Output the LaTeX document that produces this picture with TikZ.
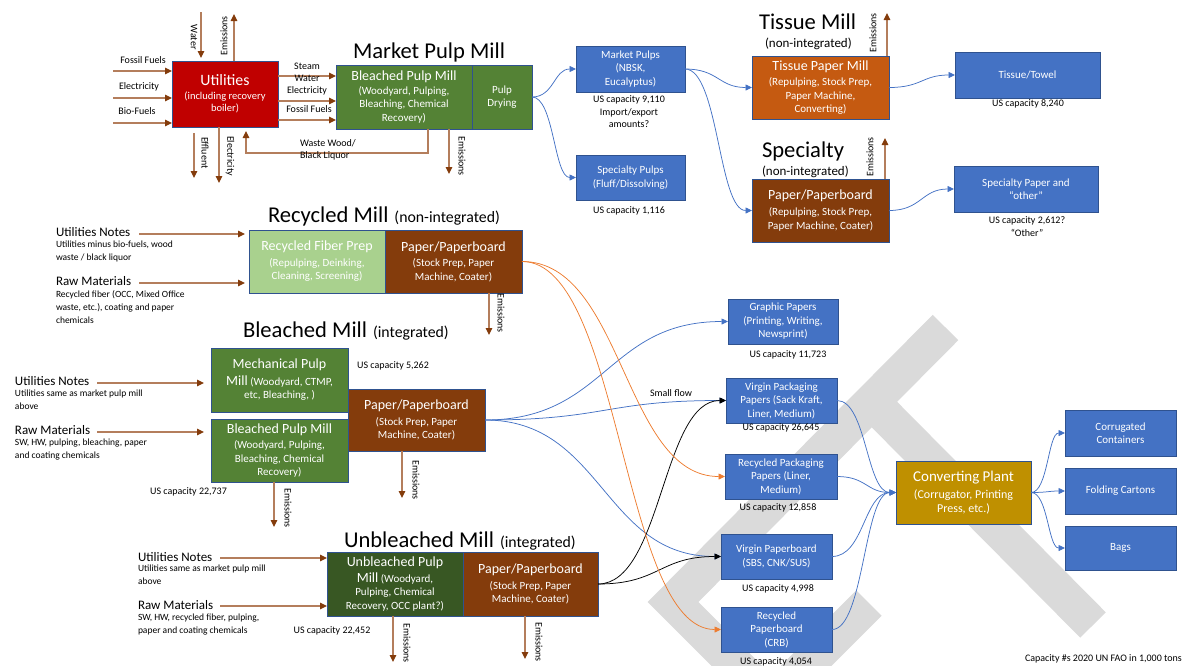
\documentclass[tikz,border=0pt]{standalone}
\usepackage{fontspec}
\setmainfont{Carlito}
\usetikzlibrary{arrows.meta,calc}

% fills
\definecolor{cRed}{HTML}{C00000}
\definecolor{cGreen}{HTML}{548235}
\definecolor{cDkGreen}{HTML}{385723}
\definecolor{cLtGreen}{HTML}{A9D18E}
\definecolor{cBrown}{HTML}{843C0C}
\definecolor{cOrange}{HTML}{C55A11}
\definecolor{cBlue}{HTML}{4472C4}
\definecolor{cGold}{HTML}{BF9000}
\definecolor{cEdge}{HTML}{2F528F}
% lines
\definecolor{cFlowBlue}{HTML}{4472C4}
\definecolor{cFlowOrange}{HTML}{ED7D31}
\definecolor{cArrLine}{HTML}{B47E5C}
\definecolor{cArrHead}{HTML}{843C0C}
\definecolor{cMark}{HTML}{DADADA}

% type sizes (1pt = 1 unit of the picture)
\newcommand\ftitle{\fontsize{22.6}{27}\selectfont}
\newcommand\fhead{\fontsize{15.8}{19}\selectfont}
\newcommand\fnotehead{\fontsize{13}{15}\selectfont}
\newcommand\fmain{\fontsize{14}{17}\selectfont}
\newcommand\fsub{\fontsize{11}{13.5}\selectfont}
\newcommand\flab{\fontsize{10}{12.5}\selectfont}
\newcommand\fnote{\fontsize{9.5}{13}\selectfont}

\tikzset{
  box/.style={draw=cEdge, line width=0.8pt, inner sep=0pt, outer sep=0pt,
    align=center, text=white, font=\fsub},
  prod/.style={box, fill=cBlue},
  lab/.style={inner sep=0pt, outer sep=0pt, font=\flab},
  ttl/.style={inner sep=0pt, outer sep=0pt, anchor=base west},
  note/.style={inner sep=0pt, outer sep=0pt, font=\fnote, align=left, anchor=north west},
  notehead/.style={inner sep=0pt, outer sep=0pt, font=\fnotehead, anchor=west},
  feed/.style={draw=cArrLine, line width=1.1pt,
    -{Triangle[length=7pt,width=6.5pt,color=cArrHead]}},
  office/.style={to path={let \p1=(\tikztostart), \p2=(\tikztotarget) in
    .. controls ({(\x1+\x2)/2},\y1) and ({(\x1+\x2)/2},\y2) .. (\tikztotarget) \tikztonodes}},
  flow/.style={draw=cFlowBlue, line width=0.75pt, -{Triangle[length=6.5pt,width=6pt]}, office},
  oflow/.style={flow, draw=cFlowOrange},
  kflow/.style={flow, draw=black},
  wmark/.style={draw=cMark, line width=36pt, line join=miter, line cap=butt},
}

\begin{document}
\begin{tikzpicture}[x=1pt,y=-1pt]
\useasboundingbox (0,0) rectangle (1184,665);

% background mark
\begin{scope}
  \clip (0,0) rectangle (1184,665);
  \draw[wmark] (945.5,327.5) -- (673,602) -- (763,692);
  \draw[wmark] (866,396) -- (1093,625);
  \draw[wmark] (869,603) -- (779,693);
\end{scope}

% ---------------- utilities ----------------
\node[box, fill=cRed, minimum width=106pt, minimum height=66pt,
  font=\fontsize{10.5}{12}\selectfont] (util) at (225,94)
  {{\fhead Utilities}\\[2pt](including recovery\\boiler)};

\coordinate (uFFs) at (113,71);
\coordinate (uELs) at (113,98);
\coordinate (uBFs) at (113,123);
\node[lab] (uFF) at (143,60) {Fossil Fuels};
\node[lab] (uEL) at (139,87) {Electricity};
\node[lab] (uBF) at (137,111) {Bio-Fuels};
\draw[feed] (uFFs) -- (util.west |- uFFs);
\draw[feed] (uELs) -- (util.west |- uELs);
\draw[feed] (uBFs) -- (util.west |- uBFs);

\coordinate (uWs) at (201,12);
\draw[feed] (uWs) -- ([yshift=3pt]util.north -| uWs);
\node[lab, rotate=-90] (uW) at (194,37) {Water};
\coordinate (uEm) at (234,14);
\draw[feed] (util.north -| uEm) -- (uEm);
\node[lab, rotate=90] (uEmL) at (224,36) {Emissions};
\coordinate (uEf) at (194,178);
\draw[feed] ([yshift=-6pt]util.south -| uEf) -- (uEf);
\node[lab, rotate=-90] (uEfL) at (205,153) {Effluent};
\coordinate (uEo) at (219,183);
\draw[feed] (util.south -| uEo) -- (uEo);
\node[lab, rotate=-90] (uEoL) at (230,156) {Electricity};

% ---------------- market pulp mill ----------------
\node[ttl, font=\ftitle] (tMarket) at (353,58) {Market Pulp Mill};
\node[box, fill=cGreen, minimum width=136pt, minimum height=64pt] (mpm) at (404,97)
  {{\fmain Bleached Pulp Mill}\\(Woodyard, Pulping,\\Bleaching, Chemical\\Recovery)};
\node[box, fill=cGreen, minimum width=60pt, minimum height=64pt] (mpd) at (502,97)
  {Pulp\\Drying};

\draw[feed] (util.east |- 0,76) -- (mpm.west |- 0,76);
\draw[feed] (util.east |- 0,101) -- (mpm.west |- 0,101);
\draw[feed] (util.east |- 0,120) -- (mpm.west |- 0,120);
\node[lab, anchor=north, align=center, font=\fontsize{10}{12}\selectfont] (uSteam) at (307,63)
  {Steam\\Water\\Electricity};
\node[lab] (uFF2) at (309,109) {Fossil Fuels};

\coordinate (wwA) at (428,153);
\coordinate (wwB) at (246,153);
\draw[feed] (mpm.south -| wwA) -- (wwA) -- (wwB) -- ([yshift=-4pt]util.south -| wwB);
\node[lab, anchor=north west, align=left, font=\fontsize{10}{12}\selectfont] (wwL) at (300,140)
  {Waste Wood/\\Black Liquor};

\coordinate (mEm) at (449,174);
\draw[feed] (mpm.south -| mEm) -- (mEm);
\node[lab, rotate=-90] (mEmL) at (462,156) {Emissions};

% market and specialty pulps
\node[prod, minimum width=109pt, minimum height=46pt] (mkt) at (630.5,69)
  {Market Pulps\\(NBSK,\\Eucalyptus)};
\node[lab, anchor=north, align=center] (mktCap) at (629,96)
  {US capacity 9,110\\Import/export\\amounts?};
\node[prod, minimum width=109pt, minimum height=45pt] (spp) at (630.5,177.5)
  {Specialty Pulps\\(Fluff/Dissolving)};
\node[lab] (sppCap) at (629,211) {US capacity 1,116};

% ---------------- tissue mill ----------------
\node[ttl, font=\ftitle] (tTissue) at (759,29) {Tissue Mill};
\node[ttl, font=\fnotehead] (tTissueSub) at (765,47) {(non-integrated)};
\node[box, fill=cOrange, minimum width=137pt, minimum height=63pt] (tis) at (820.5,87.5)
  {{\fmain Tissue Paper Mill}\\[2pt](Repulping, Stock Prep,\\Paper Machine,\\Converting)};
\coordinate (tEm) at (887,13);
\draw[feed] (tis.north -| tEm) -- (tEm);
\node[lab, rotate=90] (tEmL) at (873,33) {Emissions};
\node[prod, minimum width=145pt, minimum height=46pt] (towel) at (1027.5,75) {Tissue/Towel};
\node[lab] (towelCap) at (1028,104) {US capacity 8,240};

% ---------------- specialty ----------------
\node[ttl, font=\ftitle] (tSpec) at (762,157) {Specialty};
\node[ttl, font=\fnotehead] (tSpecSub) at (762,175) {(non-integrated)};
\node[box, fill=cBrown, minimum width=137pt, minimum height=63pt] (spec) at (820.5,210.5)
  {{\fmain Paper/Paperboard}\\[3pt](Repulping, Stock Prep,\\Paper Machine, Coater)};
\coordinate (sEm) at (885,138);
\draw[feed] (spec.north -| sEm) -- (sEm);
\node[lab, rotate=90] (sEmL) at (870,157) {Emissions};
\node[prod, minimum width=144pt, minimum height=46pt] (specpaper) at (1026,189)
  {Specialty Paper and\\“other”};
\node[lab, anchor=north, align=center] (specCap) at (1027,217) {US capacity 2,612?\\“Other”};

% ---------------- recycled mill ----------------
\node[ttl] (tRec) at (268,222) {{\ftitle Recycled Mill}\hspace{6pt}{\fhead (non-integrated)}};
\node[box, fill=cLtGreen, minimum width=136pt, minimum height=63pt] (rfp) at (317,261.5)
  {{\fmain Recycled Fiber Prep}\\[2pt](Repulping, Deinking,\\Cleaning, Screening)};
\node[box, fill=cBrown, minimum width=137pt, minimum height=63pt] (rpp) at (453.5,261.5)
  {{\fmain Paper/Paperboard}\\[2pt](Stock Prep, Paper\\Machine, Coater)};
\node[notehead] (rUtil) at (56,232) {Utilities Notes};
\node[note] (rUtilTxt) at (56,241) {Utilities minus bio-fuels, wood\\waste / black liquor};
\node[notehead] (rRaw) at (56,281) {Raw Materials};
\node[note] (rRawTxt) at (56,291) {Recycled fiber (OCC, Mixed Office\\waste, etc.), coating and paper\\chemicals};
\coordinate (rUs) at (139,234);
\coordinate (rRs) at (139,283);
\draw[feed] (rUs) -- ([xshift=-4pt]rfp.west |- rUs);
\draw[feed] (rRs) -- ([xshift=-4pt]rfp.west |- rRs);
\coordinate (rEm) at (489,335);
\draw[feed] (rpp.south -| rEm) -- (rEm);
\node[lab, rotate=-90] (rEmL) at (501,313) {Emissions};

% ---------------- bleached mill ----------------
\node[ttl] (tBl) at (243,337) {{\ftitle Bleached Mill}\hspace{6pt}{\fhead (integrated)}};
\node[box, fill=cGreen, minimum width=137pt, minimum height=64pt] (mech) at (279.5,380)
  {{\fmain Mechanical Pulp}\\[3pt]{\fmain Mill} (Woodyard, CTMP,\\etc, Bleaching, )};
\node[box, fill=cGreen, minimum width=137pt, minimum height=63pt] (bpm) at (279.5,450.5)
  {{\fmain Bleached Pulp Mill}\\[2pt](Woodyard, Pulping,\\Bleaching, Chemical\\Recovery)};
\node[box, fill=cBrown, minimum width=137pt, minimum height=62pt] (bpp) at (416.5,420)
  {{\fmain Paper/Paperboard}\\[2pt](Stock Prep, Paper\\Machine, Coater)};
\node[lab] (mechCap) at (393,366) {US capacity 5,262};
\node[lab] (bpmCap) at (188.5,492) {US capacity 22,737};
\node[notehead] (bUtil) at (15,381) {Utilities Notes};
\node[note] (bUtilTxt) at (15,390) {Utilities same as market pulp mill\\above};
\node[notehead] (bRaw) at (15,430) {Raw Materials};
\node[note] (bRawTxt) at (15,439) {SW, HW, pulping, bleaching, paper\\and coating chemicals};
\coordinate (bUs) at (97,383);
\coordinate (bRs) at (97,432);
\draw[feed] (bUs) -- ([xshift=-7pt]mech.west |- bUs);
\draw[feed] (bRs) -- ([xshift=-7pt]bpm.west |- bRs);
\coordinate (bEm1) at (274,527);
\draw[feed] (bpm.south -| bEm1) -- (bEm1);
\node[lab, rotate=-90] (bEm1L) at (288,508) {Emissions};
\coordinate (bEm2) at (402,498);
\draw[feed] (bpp.south -| bEm2) -- (bEm2);
\node[lab, rotate=-90] (bEm2L) at (416,480) {Emissions};

% ---------------- unbleached mill ----------------
\node[ttl] (tUb) at (344,547) {{\ftitle Unbleached Mill}\hspace{6pt}{\fhead (integrated)}};
\node[box, fill=cDkGreen, minimum width=136pt, minimum height=64pt] (ubp) at (395,584)
  {{\fmain Unbleached Pulp}\\[2pt]{\fmain Mill} (Woodyard,\\Pulping, Chemical\\Recovery, OCC plant?)};
\node[box, fill=cBrown, minimum width=135pt, minimum height=64pt] (upp) at (530.5,584)
  {{\fmain Paper/Paperboard}\\[2pt](Stock Prep, Paper\\Machine, Coater)};
\node[lab] (ubpCap) at (332,631) {US capacity 22,452};
\node[notehead] (uUtil) at (138,557) {Utilities Notes};
\node[note] (uUtilTxt) at (138,565) {Utilities same as market pulp mill\\above};
\node[notehead] (uRaw) at (138,605) {Raw Materials};
\node[note] (uRawTxt) at (138,614) {SW, HW, recycled fiber, pulping,\\paper and coating chemicals};
\coordinate (uUs) at (220,558);
\coordinate (uRs) at (220,606);
\draw[feed] (uUs) -- (ubp.west |- uUs);
\draw[feed] (uRs) -- (ubp.west |- uRs);
\coordinate (uEm1) at (393,662);
\draw[feed] (ubp.south -| uEm1) -- (uEm1);
\node[lab, rotate=-90] (uEm1L) at (407,643) {Emissions};
\coordinate (uEm2) at (525,659);
\draw[feed] (upp.south -| uEm2) -- (uEm2);
\node[lab, rotate=-90] (uEm2L) at (539,642) {Emissions};

% ---------------- paper grades ----------------
\node[prod, minimum width=110pt, minimum height=45pt] (graphic) at (783,321.5)
  {Graphic Papers\\(Printing, Writing,\\Newsprint)};
\node[lab] (graphicCap) at (788,355) {US capacity 11,723};
\node[prod, minimum width=111pt, minimum height=45pt] (vpack) at (781.5,400.5)
  {Virgin Packaging\\Papers (Sack Kraft,\\Liner, Medium)};
\node[lab] (vpackCap) at (781,428) {US capacity 26,645};
\node[prod, minimum width=112pt, minimum height=45pt] (rpack) at (781,476.5)
  {Recycled Packaging\\Papers (Liner,\\Medium)};
\node[lab] (rpackCap) at (778,508) {US capacity 12,858};
\node[prod, minimum width=111pt, minimum height=45pt] (vboard) at (776.5,556.5)
  {Virgin Paperboard\\(SBS, CNK/SUS)};
\node[lab] (vboardCap) at (778,589) {US capacity 4,998};
\node[prod, minimum width=111pt, minimum height=45pt] (rboard) at (776.5,629.5)
  {Recycled\\Paperboard\\(CRB)};
\node[lab] (rboardCap) at (776,662) {US capacity 4,054};
\node[lab] (small) at (671,393) {Small flow};

% ---------------- converting ----------------
\node[box, fill=cGold, minimum width=135pt, minimum height=63pt,
  font=\fontsize{12}{14}\selectfont] (conv) at (963.5,492.5)
  {{\fontsize{15}{18}\selectfont Converting Plant}\\[3pt](Corrugator, Printing\\Press, etc.)};
\node[prod, minimum width=111pt, minimum height=46pt] (corr) at (1120.5,433)
  {Corrugated\\Containers};
\node[prod, minimum width=111pt, minimum height=46pt] (fold) at (1120.5,491) {Folding Cartons};
\node[prod, minimum width=111pt, minimum height=44pt] (bags) at (1120.5,548) {Bags};
\node[lab, anchor=west] (src) at (1025,659) {Capacity \#s 2020 UN FAO in 1,000 tons};

% ---------------- flows ----------------
\draw[flow] (mpd.east) to (mkt.west);
\draw[flow] (mpd.east) to (spp.west);
\draw[flow] (mkt.east) to (tis.west);
\draw[flow] (mkt.east) to (spec.west);
\draw[flow] (tis.east) to (towel.west);
\draw[flow] (spec.east) to (specpaper.west);
\draw[flow] (bpp.east) to (graphic.west);
\draw[flow] (bpp.east) to (vpack.west);
\draw[flow] (bpp.east) to (vboard.west);
\draw[kflow] (upp.east) to (vpack.west);
\draw[kflow] (upp.east) to (vboard.west);
\draw[oflow] (rpp.east) to (rpack.west);
\draw[oflow] (rpp.east) to (rboard.west);
\draw[flow] (vpack.east) to (conv.west);
\draw[flow] (rpack.east) to (conv.west);
\draw[flow] (vboard.east) to (conv.west);
\draw[flow] (rboard.east) to (conv.west);
\draw[flow] (conv.east) to (corr.west);
\draw[flow] (conv.east) to (fold.west);
\draw[flow] (conv.east) to (bags.west);
\end{tikzpicture}
\end{document}
